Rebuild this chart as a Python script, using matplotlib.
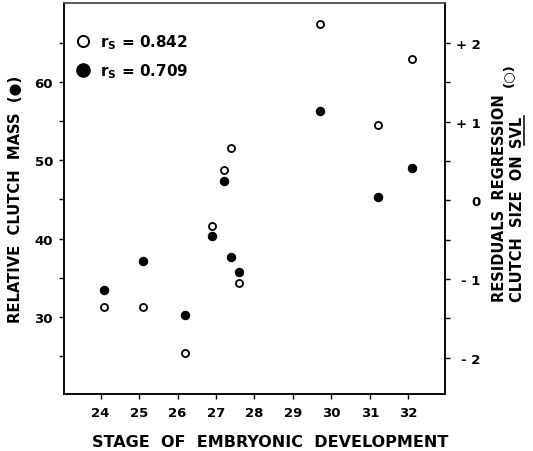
import matplotlib
matplotlib.use('Agg')
import matplotlib.pyplot as plt
from matplotlib.lines import Line2D

# ---- data ----
stage = [24.1, 25.1, 26.2, 26.9, 27.2, 27.4, 27.6, 29.7, 31.2, 32.1]
rel_clutch_mass = [33.4, 37.2, 30.2, 40.3, 47.4, 37.7, 35.7, 56.3, 45.3, 49.0]
residuals = [-1.36, -1.36, -1.94, -0.33, 0.39, 0.67, -1.05, 2.24, 0.96, 1.80]

x_ticks = [24, 25, 26, 27, 28, 29, 30, 31, 32]
left_major = [30, 40, 50, 60]
left_minor = [25, 35, 45, 55, 65]
right_major = [-2, -1, 0, 1, 2]
right_labels = ['- 2', '- 1', '0', '+ 1', '+ 2']
right_minor = [-1.5, -0.5, 0.5, 1.5]
rs_open = 0.842
rs_filled = 0.709

W, H = 533, 452
plt.rcParams['font.family'] = ['DejaVu Sans']
plt.rcParams['font.weight'] = 'bold'

fig = plt.figure(figsize=(W / 100, H / 100), dpi=100)

def fx(px):
    return px / W

def fy(py):
    return 1 - py / H

ax = fig.add_axes([fx(64), fy(395), (445 - 64) / W, (395 - 4) / H])
ax2 = ax.twinx()

ax.set_xlim(23.05, 32.95)
ax.set_ylim(20.15, 70.1)
ax2.set_ylim(-2.46, 2.51)

# filled points: relative clutch mass (left axis)
ax.scatter(stage, rel_clutch_mass, s=36, facecolor='black', edgecolor='black',
           linewidth=0.8, zorder=3)
# open points: residuals (right axis)
ax2.scatter(stage, residuals, s=26, facecolor='white', edgecolor='black',
            linewidth=1.3, zorder=4)

for spine in list(ax.spines.values()) + list(ax2.spines.values()):
    spine.set_linewidth(1.1)
    spine.set_color('black')
ax.spines['top'].set_color('#555555')
ax2.spines['top'].set_color('#555555')

# x axis
ax.set_xticks(x_ticks)
ax.set_xticklabels([str(t) for t in x_ticks])
ax.tick_params(axis='x', direction='out', length=3.5, width=1.0, pad=5,
               labelsize=9.5, top=False)

# left axis
ax.set_yticks(left_major)
ax.set_yticks(left_minor, minor=True)
ax.tick_params(axis='y', which='both', direction='out', length=3.6, width=1.0,
               pad=4.3, labelsize=9.5, left=True, right=False)

# right axis
ax2.set_yticks(right_major)
ax2.set_yticklabels(right_labels)
ax2.set_yticks(right_minor, minor=True)
ax2.tick_params(axis='y', which='both', direction='out', length=3.6, width=1.0,
                labelsize=9.5, left=False, right=True)
ax2.tick_params(axis='y', which='major', pad=22)
for lab in ax2.get_yticklabels():
    lab.set_ha('right')

ax.set_xlabel('STAGE  OF  EMBRYONIC  DEVELOPMENT', fontsize=11.5,
              fontweight='bold')
ax.xaxis.set_label_coords((270 - 64) / 381, (395 - 435) / 391)
ax.set_ylabel('RELATIVE  CLUTCH  MASS  (\u25CF)', fontsize=10.6,
              fontweight='bold')
ax.yaxis.set_label_coords((23 - 64) / 381, 0.5)

# right-hand label (two lines, SVL underlined)
rfs = 10.5
fig.text(fx(500), fy(302), 'RESIDUALS  REGRESSION', rotation=90,
         ha='center', va='bottom', fontsize=rfs, fontweight='bold')
fig.text(fx(509), fy(75), '(\u25CB)', rotation=90,
         ha='center', va='center', fontsize=rfs - 1, fontweight='bold')
t2 = fig.text(fx(517), fy(302), 'CLUTCH  SIZE  ON', rotation=90,
              ha='center', va='bottom', fontsize=rfs, fontweight='bold')
fig.canvas.draw()
bb2 = t2.get_window_extent()
t3 = fig.text(fx(517), (bb2.y1 + 8) / H, 'SVL', rotation=90,
              ha='center', va='bottom', fontsize=rfs, fontweight='bold')
fig.canvas.draw()
bb3 = t3.get_window_extent()
xu = (bb3.x1 - 1.0) / W
fig.add_artist(Line2D([xu, xu], [(bb3.y0 + 1) / H, (bb3.y1 - 1) / H],
                      color='black', linewidth=1.1,
                      transform=fig.transFigure))

# legend
h_open = Line2D([], [], linestyle='none', marker='o', markersize=8,
                markerfacecolor='white', markeredgecolor='black',
                markeredgewidth=1.4)
h_fill = Line2D([], [], linestyle='none', marker='o', markersize=9.5,
                markerfacecolor='black', markeredgecolor='black')
leg = ax2.legend([h_open, h_fill],
                 [r'r$_\mathbf{S}$ = %.3f' % rs_open,
                  r'r$_\mathbf{S}$ = %.3f' % rs_filled],
                 loc='upper left', bbox_to_anchor=(0.030, 0.926),
                 borderaxespad=0, borderpad=0, frameon=False,
                 handlelength=1.0, handletextpad=0.6, labelspacing=0.7,
                 prop={'size': 11, 'weight': 'bold'})

fig.savefig('out.png', dpi=100)
